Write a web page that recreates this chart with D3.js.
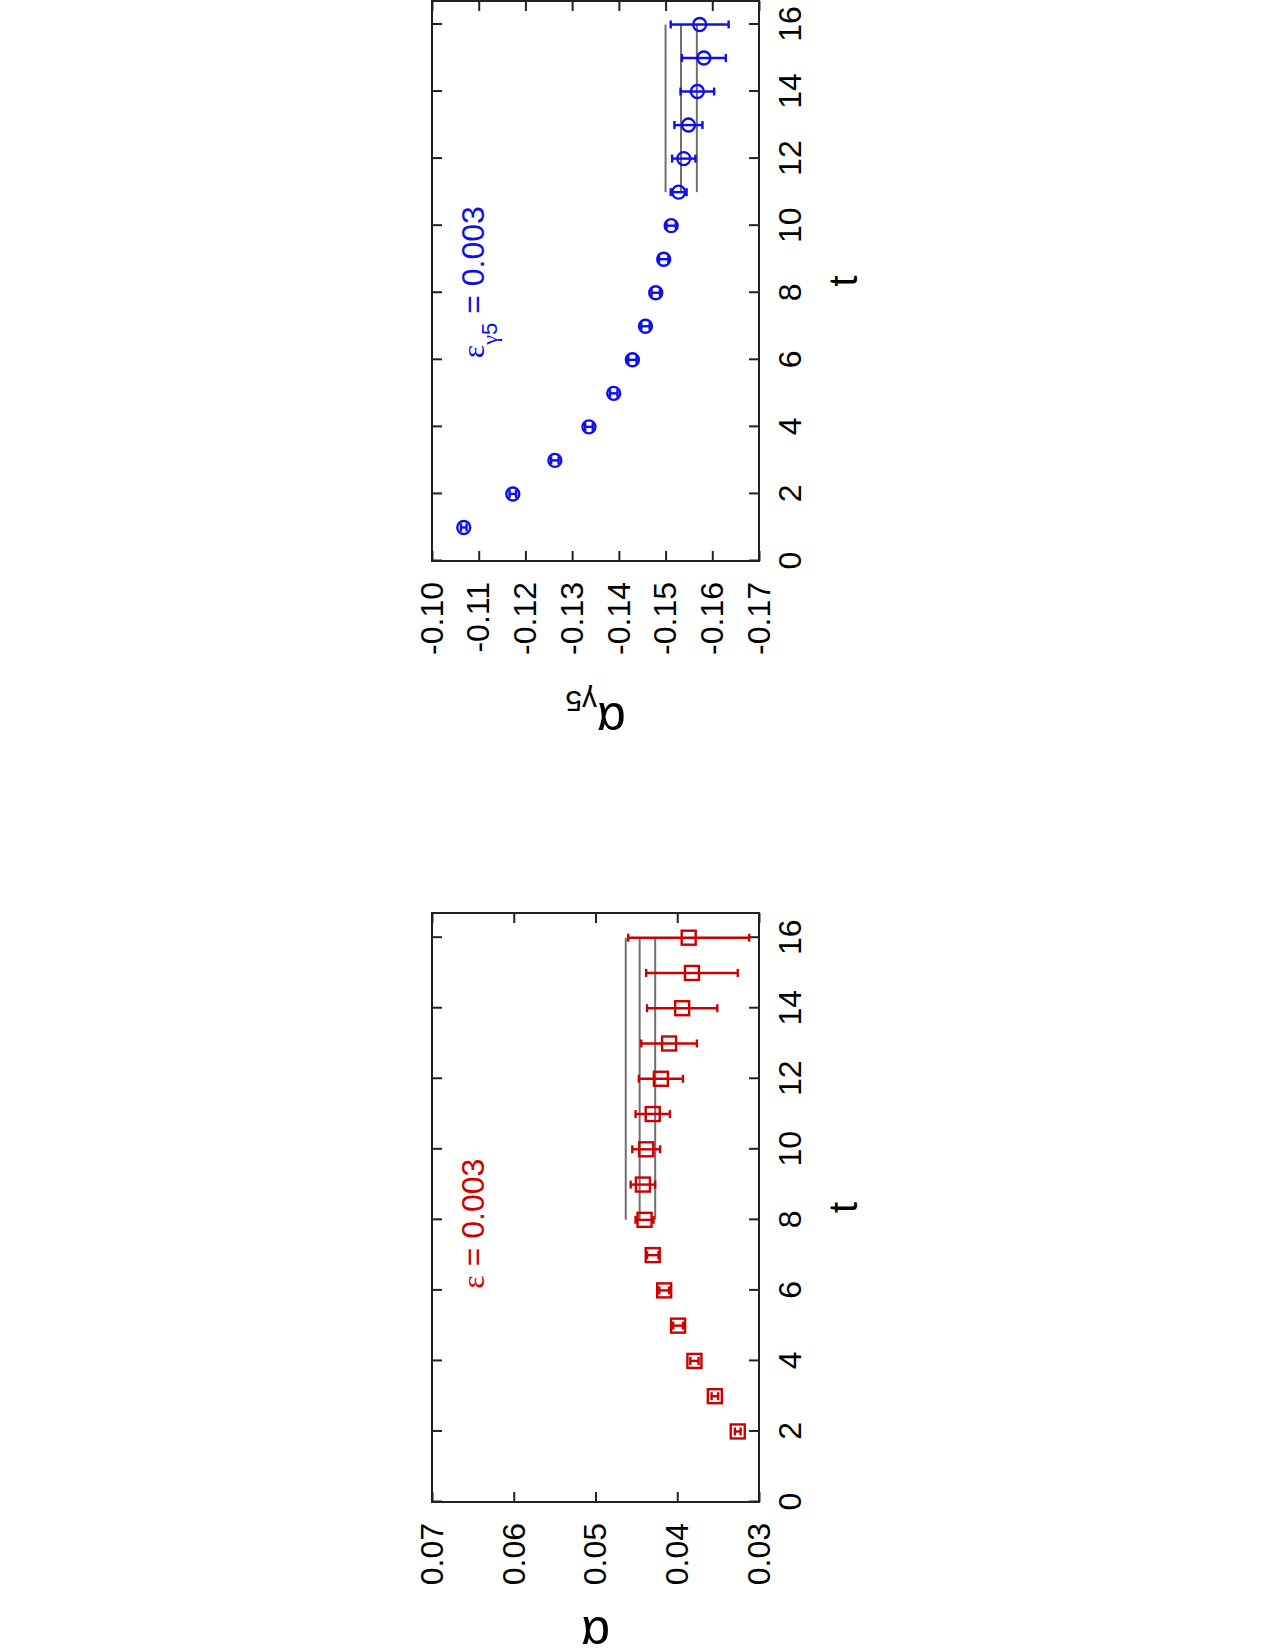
<!DOCTYPE html>
<html>
<head>
<meta charset="utf-8">
<script src="https://cdn.jsdelivr.net/npm/d3@7"></script>
<style>
  body { margin: 0; background: #fff; }
  svg { display: block; background: #fff; }
  text { font-family: "Liberation Sans", Arial, Helvetica, sans-serif; }
</style>
</head>
<body>
<svg width="1275" height="1650"></svg>
<script>
// values

// upper panel: alpha_gamma5 vs t (blue circles)
const tG5 = [1, 2, 3, 4, 5, 6, 7, 8, 9, 10, 11, 12, 13, 14, 15, 16];
const alphaG5 = [-0.1068, -0.1173, -0.1263, -0.1336, -0.1389, -0.1429, -0.1457, -0.1479,
                 -0.1496, -0.1512, -0.1528, -0.1539, -0.1549, -0.1568, -0.1582, -0.1573];
const alphaG5Err = [0.0006, 0.0007, 0.0008, 0.0008, 0.0008, 0.0009, 0.0009, 0.0009,
                    0.0010, 0.0010, 0.0017, 0.0025, 0.0030, 0.0036, 0.0047, 0.0062];
const fitG5 = [-0.1500, -0.1533, -0.1567];   // fit band: edge, centre, edge
const fitG5Range = [11, 16];
const g5Ticks = [-0.10, -0.11, -0.12, -0.13, -0.14, -0.15, -0.16, -0.17];

// lower panel: alpha vs t (red squares)
const tA = [2, 3, 4, 5, 6, 7, 8, 9, 10, 11, 12, 13, 14, 15, 16];
const alphaA = [0.0326, 0.0354, 0.0379, 0.0399, 0.0416, 0.0430, 0.0440, 0.0442,
                0.0438, 0.0430, 0.0420, 0.0410, 0.0394, 0.0382, 0.0386];
const alphaAErr = [0.00035, 0.0004, 0.0005, 0.0006, 0.0006, 0.0007, 0.0011, 0.0015,
                   0.0017, 0.0021, 0.0027, 0.0034, 0.0043, 0.0056, 0.0074];
const fitA = [0.0463, 0.0446, 0.0427];
const fitARange = [8, 16];
const aTicks = [0.03, 0.04, 0.05, 0.06, 0.07];

const tTicks = [0, 2, 4, 6, 8, 10, 12, 14, 16];
const tDomain = [0, 16.7];

const fmt = d3.formatLocale({decimal: ".", thousands: ",", grouping: [3],
                             currency: ["", ""], minus: "-"}).format(".2f");

const svg = d3.select("svg");

// the whole figure is turned by 90 degrees: every panel is drawn in its own
// frame (t to the right, value up) and then rotated
function drawPanel(p) {
    const g = svg.append("g")
        .attr("transform", `translate(${p.left}, ${p.bottom}) rotate(-90)`);

    const scX = d3.scaleLinear().domain(tDomain).range([0, p.width]);
    const scY = d3.scaleLinear().domain(p.yDomain).range([p.height, 0]);

    const styleAxis = sel => {
        sel.select(".domain").remove();
        sel.selectAll(".tick line").attr("stroke", "#222").attr("stroke-width", 2);
        sel.selectAll(".tick text").attr("fill", "#000");
        sel.attr("font-size", 32).attr("font-family", null);
    };

    g.append("g")
        .call(d3.axisLeft(scY).tickValues(p.yTicks).tickFormat(fmt)
              .tickSizeInner(-10).tickSizeOuter(0).tickPadding(21))
        .call(styleAxis);
    g.append("g")
        .attr("transform", `translate(${p.width}, 0)`)
        .call(d3.axisRight(scY).tickValues(p.yTicks).tickFormat("")
              .tickSizeInner(-10).tickSizeOuter(0))
        .call(styleAxis);
    g.append("g")
        .attr("transform", `translate(0, ${p.height})`)
        .call(d3.axisBottom(scX).tickValues(tTicks).tickFormat(d3.format("d"))
              .tickSizeInner(-10).tickSizeOuter(0).tickPadding(19))
        .call(styleAxis);
    g.append("g")
        .call(d3.axisTop(scX).tickValues(tTicks).tickFormat("")
              .tickSizeInner(-10).tickSizeOuter(0))
        .call(styleAxis);

    g.append("rect")
        .attr("width", p.width)
        .attr("height", p.height)
        .attr("fill", "none")
        .attr("stroke", "#222")
        .attr("stroke-width", 2);

    // fit band
    g.selectAll("line.fit")
        .data(p.fit)
        .enter()
        .append("line")
        .attr("class", "fit")
        .attr("x1", scX(p.fitRange[0]))
        .attr("x2", scX(p.fitRange[1]))
        .attr("y1", d => scY(d))
        .attr("y2", d => scY(d))
        .attr("stroke", "#707070")
        .attr("stroke-width", 2);

    const pts = p.t.map((t, i) => ({t: t, v: p.values[i], e: p.errors[i]}));

    // error bars
    const bars = g.selectAll("g.err")
        .data(pts)
        .enter()
        .append("g")
        .attr("class", "err")
        .attr("stroke", p.color)
        .attr("stroke-width", 2.4);
    bars.append("line")
        .attr("x1", d => scX(d.t)).attr("x2", d => scX(d.t))
        .attr("y1", d => scY(d.v - d.e)).attr("y2", d => scY(d.v + d.e));
    [-1, 1].forEach(s => {
        bars.append("line")
            .attr("x1", d => scX(d.t) - 4).attr("x2", d => scX(d.t) + 4)
            .attr("y1", d => scY(d.v + s * d.e)).attr("y2", d => scY(d.v + s * d.e));
    });

    // open markers
    if (p.marker === "circle") {
        g.selectAll("circle.pt")
            .data(pts)
            .enter()
            .append("circle")
            .attr("class", "pt")
            .attr("cx", d => scX(d.t))
            .attr("cy", d => scY(d.v))
            .attr("r", 6.5)
            .attr("fill", "none")
            .attr("stroke", p.color)
            .attr("stroke-width", 2.4);
    } else {
        g.selectAll("rect.pt")
            .data(pts)
            .enter()
            .append("rect")
            .attr("class", "pt")
            .attr("x", d => scX(d.t) - 7)
            .attr("y", d => scY(d.v) - 7)
            .attr("width", 14)
            .attr("height", 14)
            .attr("fill", "none")
            .attr("stroke", p.color)
            .attr("stroke-width", 2.4);
    }

    // label inside the plot
    const lab = g.append("text")
        .attr("x", scX(6.05))
        .attr("y", 52)
        .attr("font-size", 32)
        .attr("fill", p.color);
    lab.append("tspan").attr("font-family", "Liberation Serif, serif").text("ε");
    if (p.sub) {
        lab.append("tspan").attr("font-size", 22).attr("dy", 13)
            .attr("font-family", "Liberation Serif, serif").text("γ");
        lab.append("tspan").attr("font-size", 22).text("5");
        lab.append("tspan").attr("dy", -13).text(" = 0.003");
    } else {
        lab.append("tspan").text(" = 0.003");
    }

    // axis titles
    g.append("text")
        .attr("x", p.width / 2)
        .attr("y", p.height + 98)
        .attr("text-anchor", "middle")
        .attr("font-size", 40)
        .text("t");

    const yt = g.append("text")
        .attr("transform", `translate(${p.yTitleX}, ${p.height / 2}) rotate(-90)`)
        .attr("text-anchor", "middle")
        .attr("font-family", "Liberation Serif, serif")
        .attr("font-size", 50)
        .text("α");
    if (p.sub) {
        yt.append("tspan").attr("font-size", 30).attr("dy", 12).text("γ");
        yt.append("tspan").attr("font-size", 30).attr("font-family", "Liberation Sans, sans-serif").text("5");
    }
}

drawPanel({
    left: 432, bottom: 561, width: 560, height: 327,
    yDomain: [-0.17, -0.10], yTicks: g5Ticks,
    t: tG5, values: alphaG5, errors: alphaG5Err,
    fit: fitG5, fitRange: fitG5Range,
    color: "#1010e6", marker: "circle", sub: true, yTitleX: -142
});

drawPanel({
    left: 432, bottom: 1502, width: 589, height: 327,
    yDomain: [0.03, 0.07], yTicks: aTicks,
    t: tA, values: alphaA, errors: alphaAErr,
    fit: fitA, fitRange: fitARange,
    color: "#cc0000", marker: "square", sub: false, yTitleX: -115
});
</script>
</body>
</html>
